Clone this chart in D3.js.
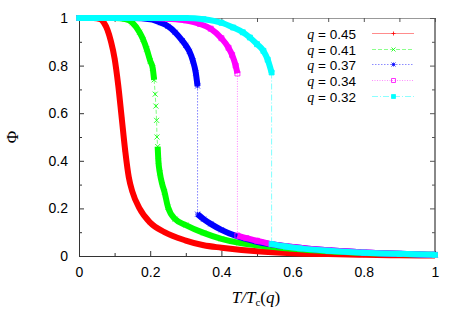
<!DOCTYPE html>
<html>
<head>
<meta charset="utf-8">
<script src="https://cdn.jsdelivr.net/npm/d3@7.9.0/dist/d3.min.js"></script>
<style>
  body { margin: 0; background: #fff; }
</style>
</head>
<body>
<svg id="chart" width="463" height="324"></svg>
<script>
// tick values
const xMajor = [0, 0.2, 0.4, 0.6, 0.8, 1];
const xMinor = [0.1, 0.3, 0.5, 0.7, 0.9];
const yMajor = [0, 0.2, 0.4, 0.6, 0.8, 1];
const yMinor = [0.1, 0.3, 0.5, 0.7, 0.9];

// series labels (q values)
const qLabels = ["0.45", "0.41", "0.37", "0.34", "0.32"];

// values: T/Tc(q) and Phi
const tRed = [0, 0.04, 0.06, 0.07, 0.08, 0.09, 0.1, 0.11, 0.12, 0.13, 0.14, 0.15, 0.17, 0.2, 0.24, 0.3, 0.35, 0.4, 0.5, 0.6, 0.7, 0.8, 0.9, 1.0];
const phiRed = [1, 1, 0.995, 0.98, 0.95, 0.9, 0.83, 0.72, 0.58, 0.44, 0.33, 0.27, 0.2, 0.14, 0.1, 0.065, 0.045, 0.035, 0.02, 0.012, 0.008, 0.005, 0.003, 0.002];

const tGreen = [0, 0.1, 0.13, 0.15, 0.17, 0.18, 0.19, 0.2, 0.207, 0.211, 0.214, 0.216, 0.218, 0.219, 0.221, 0.223, 0.227, 0.234, 0.24, 0.25, 0.27, 0.3, 0.35, 0.4, 0.45, 0.5, 0.6, 0.7, 0.8, 0.9, 1];
const phiGreen = [1, 1, 0.995, 0.98, 0.94, 0.91, 0.87, 0.82, 0.79, 0.74, 0.68, 0.63, 0.57, 0.5, 0.46, 0.4, 0.35, 0.3, 0.27, 0.205, 0.155, 0.13, 0.097, 0.072, 0.055, 0.045, 0.03, 0.02, 0.013, 0.008, 0.005];

const tBlue = [0, 0.15, 0.2, 0.23, 0.25, 0.27, 0.29, 0.3, 0.31, 0.32, 0.328, 0.333, 0.333, 0.35, 0.37, 0.4, 0.44, 0.5, 0.6, 0.7, 0.8, 0.9, 1];
const phiBlue = [1, 1, 0.995, 0.98, 0.965, 0.94, 0.905, 0.885, 0.86, 0.82, 0.77, 0.714, 0.176, 0.155, 0.135, 0.11, 0.085, 0.06, 0.038, 0.024, 0.015, 0.009, 0.005];

const tMagenta = [0, 0.2, 0.25, 0.3, 0.34, 0.37, 0.4, 0.42, 0.43, 0.44, 0.445, 0.445, 0.47, 0.5, 0.54, 0.6, 0.7, 0.8, 0.9, 1];
const phiMagenta = [1, 1, 0.997, 0.99, 0.975, 0.955, 0.915, 0.875, 0.845, 0.8, 0.767, 0.086, 0.075, 0.064, 0.05, 0.038, 0.024, 0.015, 0.009, 0.005];

const tCyan = [0, 0.3, 0.35, 0.4, 0.433, 0.46, 0.48, 0.5, 0.518, 0.53, 0.541, 0.541, 0.58, 0.62, 0.7, 0.8, 0.9, 1];
const phiCyan = [1, 1, 0.995, 0.98, 0.96, 0.94, 0.918, 0.89, 0.862, 0.825, 0.771, 0.05, 0.04, 0.032, 0.022, 0.014, 0.009, 0.005];

// index range where the points are sparse (jump / steep part), null = none
const sparseRed = null;
const sparseGreen = [9, 14];
const sparseBlue = [11, 12];
const sparseMagenta = [10, 11];
const sparseCyan = [10, 11];

const colors = ["#ff0000", "#00ff00", "#0000ff", "#ff00ff", "#00ffff"];
const dashes = [null, "4,2", "1.5,1.5", "1,1.5", "6,2,1,2"];
const markers = ["plus", "cross", "star", "box", "boxfill"];

const series = [
  [tRed, phiRed, sparseRed],
  [tGreen, phiGreen, sparseGreen],
  [tBlue, phiBlue, sparseBlue],
  [tMagenta, phiMagenta, sparseMagenta],
  [tCyan, phiCyan, sparseCyan]
].map(([t, p, sp], i) => ({
  pts: t.map((v, k) => [v, p[k]]),
  sparse: sp,
  color: colors[i],
  dash: dashes[i],
  marker: markers[i],
  label: qLabels[i]
}));

const sans = "'Liberation Sans', Arial, Helvetica, sans-serif";
const serif = "'Liberation Serif', 'Times New Roman', serif";

const margin = { left: 79, right: 28, top: 18, bottom: 68 };
const width = 463 - margin.left - margin.right;
const height = 324 - margin.top - margin.bottom;

const svg = d3.select("#chart");
const g = svg.append("g").attr("transform", `translate(${margin.left},${margin.top})`);

const x = d3.scaleLinear().domain([0, 1]).range([0, width]);
const y = d3.scaleLinear().domain([0, 1]).range([height, 0]);

// frame
g.append("line").attr("x1", 0).attr("x2", width).attr("y1", 0.5).attr("y2", 0.5).attr("stroke", "#999");
g.append("line").attr("x1", width).attr("x2", width).attr("y1", 0).attr("y2", height).attr("stroke", "#888").attr("stroke-width", 2);

function styleAxis(sel) {
  sel.select(".domain").attr("stroke", "#333");
  sel.selectAll(".tick line").attr("stroke", "#333");
  sel.selectAll("text").style("font-size", "14px").attr("fill", "#000")
    .style("font-family", sans);
}

g.append("g").call(d3.axisTop(x).tickValues(xMajor.concat(xMinor)).tickSize(-4).tickFormat(""))
  .call(s => s.select(".domain").remove()).selectAll(".tick line").attr("stroke", "#555");
g.append("g").attr("transform", `translate(${width},0)`)
  .call(d3.axisRight(y).tickValues(yMajor).tickSize(-5).tickFormat(""))
  .call(s => s.select(".domain").remove()).selectAll(".tick line").attr("stroke", "#555");
g.append("g").attr("transform", `translate(${width},0)`)
  .call(d3.axisRight(y).tickValues(yMinor).tickSize(-3).tickFormat(""))
  .call(s => s.select(".domain").remove()).selectAll(".tick line").attr("stroke", "#555");

g.append("g").attr("transform", `translate(0,${height})`)
  .call(d3.axisBottom(x).tickValues(xMinor).tickSize(-3).tickFormat(""))
  .call(s => s.select(".domain").remove()).selectAll(".tick line").attr("stroke", "#333");
g.append("g")
  .call(d3.axisLeft(y).tickValues(yMinor).tickSize(-3).tickFormat(""))
  .call(s => s.select(".domain").remove()).selectAll(".tick line").attr("stroke", "#333");

g.append("g").attr("transform", `translate(0,${height})`)
  .call(d3.axisBottom(x).tickValues(xMajor).tickSize(-5).tickPadding(11).tickFormat(d3.format("~g")))
  .call(styleAxis);
g.append("g")
  .call(d3.axisLeft(y).tickValues(yMajor).tickSize(-5).tickPadding(11).tickFormat(d3.format("~g")))
  .call(styleAxis);

// marker shapes
function markerPath(type, s) {
  const p = d3.path();
  if (type === "plus" || type === "star") {
    p.moveTo(-s, 0); p.lineTo(s, 0); p.moveTo(0, -s); p.lineTo(0, s);
  }
  if (type === "cross" || type === "star") {
    p.moveTo(-s, -s); p.lineTo(s, s); p.moveTo(-s, s); p.lineTo(s, -s);
  }
  if (type === "box" || type === "boxfill") {
    p.rect(-s, -s, 2 * s, 2 * s);
  }
  return p.toString();
}

function drawMarker(sel, d, type, color, s, op) {
  sel.append("path")
    .attr("transform", `translate(${d[0]},${d[1]})`)
    .attr("d", markerPath(type, s))
    .attr("fill", type === "boxfill" ? color : "none")
    .attr("stroke", color)
    .attr("stroke-opacity", op)
    .attr("stroke-width", 1);
}

const band = d3.line().x(d => x(d[0])).y(d => y(d[1])).curve(d3.curveMonotoneX);
const thin = d3.line().x(d => x(d[0])).y(d => y(d[1]));

series.forEach(s => {
  const layer = g.append("g");
  let branches = [s.pts];
  if (s.sparse) {
    const [a, b] = s.sparse;
    const mid = s.pts.slice(a, b + 1);
    layer.append("path").attr("d", thin(mid))
      .attr("fill", "none").attr("stroke", s.color).attr("stroke-opacity", 0.5)
      .attr("stroke-width", 1).attr("stroke-dasharray", s.dash);
    branches = [s.pts.slice(0, a + 1), s.pts.slice(b)];
  }
  branches.forEach(br => {
    layer.append("path").attr("d", band(br))
      .attr("fill", "none").attr("stroke", s.color).attr("stroke-width", 6);
  });
  s.pts.forEach(p => drawMarker(layer, [x(p[0]), y(p[1])], s.marker, s.color, 2.5, 0.8));
});

// legend
const legend = svg.append("g");
series.forEach((s, i) => {
  const cy = Math.round(33 + i * 15.7) + 0.5;
  const t = legend.append("text").attr("x", 356).attr("y", cy + 5)
    .attr("text-anchor", "end").style("font-size", "13.5px").style("font-family", sans);
  t.append("tspan").style("font-family", serif).style("font-style", "italic")
    .style("font-size", "14px").text("q");
  t.append("tspan").text(" = " + s.label);
  legend.append("line").attr("x1", 372).attr("x2", 414).attr("y1", cy).attr("y2", cy)
    .attr("stroke", s.color).attr("stroke-opacity", 0.45).attr("stroke-dasharray", s.dash);
  drawMarker(legend, [393.5, cy], s.marker, s.color, 2, 0.8);
});

// axis titles
svg.append("text").attr("transform", "translate(18,137) rotate(-90)")
  .attr("text-anchor", "middle").style("font-family", serif)
  .style("font-size", "17px").text("Φ");

const xt = svg.append("text").attr("x", 256).attr("y", 303).attr("text-anchor", "middle")
  .style("font-family", serif).style("font-size", "17px");
xt.append("tspan").style("font-style", "italic").text("T/T");
xt.append("tspan").style("font-size", "11px").attr("dy", 3).text("c");
xt.append("tspan").attr("dy", -3).text("(");
xt.append("tspan").style("font-style", "italic").text("q");
xt.append("tspan").text(")");
</script>
</body>
</html>
